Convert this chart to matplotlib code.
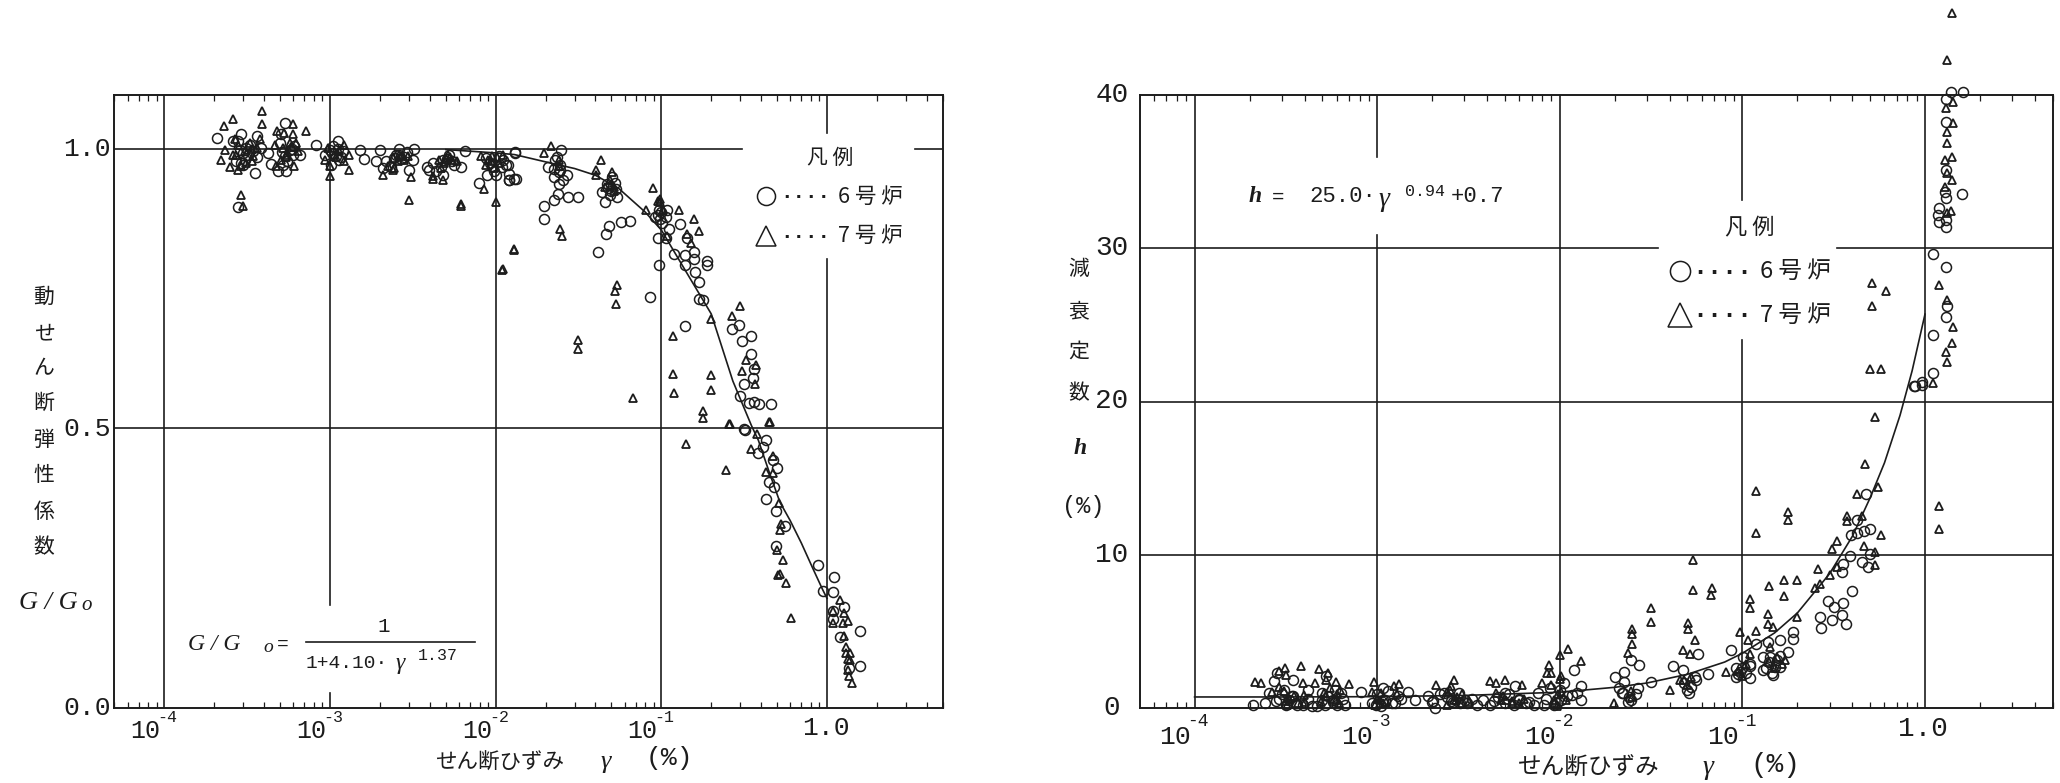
import matplotlib
matplotlib.use("Agg")
import matplotlib.pyplot as plt
from matplotlib.lines import Line2D
from matplotlib.ticker import LogLocator, NullFormatter

# ====== left panel data (G/Go) ======
g6_x = [2.08e-4, 2.60e-4, 2.92e-4, 3.63e-4, 2.79e-4, 3.13e-4, 3.43e-4, 2.85e-4, 3.06e-4, 2.72e-4, 3.20e-4, 3.85e-4, 4.23e-4, 3.52e-4, 2.99e-4, 2.79e-4,
        5.32e-4, 4.43e-4, 4.85e-4, 5.45e-4, 5.20e-4, 6.55e-4, 4.97e-4, 5.70e-4, 5.32e-4, 6.10e-4, 5.08e-4, 5.97e-4,
        8.18e-4, 1.11e-3, 9.93e-4, 1.09e-3, 9.27e-4, 1.02e-3, 1.19e-3, 1.04e-3, 1.14e-3, 1.51e-3, 1.61e-3,
        2.00e-3, 1.90e-3, 2.62e-3, 3.22e-3, 3.15e-3, 2.18e-3, 2.44e-3, 2.81e-3, 3.00e-3, 2.33e-3, 2.08e-3, 2.62e-3,
        6.53e-3, 3.83e-3, 6.15e-3, 4.16e-3, 4.78e-3, 5.48e-3, 4.36e-3, 4.78e-3, 5.24e-3, 3.97e-3,
        1.31e-2, 7.94e-3, 8.91e-3, 1.20e-2, 1.32e-2, 9.55e-3, 1.15e-2, 8.71e-3, 1.10e-2, 1.00e-2,
        .0130, .0119, .0109, .0120, .0129, .0120, .0206, .0249, .0229, .0245, .0270, .0224, .0240, .0238, .0224, .0273, .0314, .0197, .0197,
        .0481, .0463, .0574, .0650, .0413, .0439, .0459, .0504, .0540, .0492, .0859, .0964, .092, .108, .0986, .111, .0955, .129, .119, .138,
        .157, .138, .189, .189, .159, .168, .168, .178, .138, .267, .296, .348, .305, .348, .364, .356, .317, .297, .336, .36, .391, .459, .317,
        .143, .157, .106, .024, .0224, .047, .053, .099, .0964,
        .318, .431, .409, .385, .470, .500, .447, .479, .431, .491, .560, .491, .879, 1.10, .94, 1.09, 1.09, 1.27, 1.09, 1.19, 1.58, 1.58, 1.35]
g6_y = [1.020, 1.014, 1.026, 1.023, 1.014, 1.002, .996, .999, .981, .978, .990, 1.002, .993, .957, .972, .897,
        1.047, .973, .960, .960, .972, .990, 1.011, .999, .987, 1.005, 1.026, .990,
        1.007, 1.014, .999, .987, .990, .972, .996, 1.005, .981, .999, .983,
        .999, .978, 1.000, 1.000, .981, .978, .984, .986, .962, .968, .966, .990,
        .996, .968, .968, .975, .981, .978, .960, .954, .990, .963,
        .994, .939, .954, .945, .946, .969, .972, .984, .981, .954,
        .992, .971, .967, .956, .946, .944, .968, .999, .980, .971, .953, .950, .938, .920, .909, .915, .914, .898, .875,
        .862, .848, .869, .871, .816, .923, .905, .950, .914, .917, .735, .792, .878, .890, .875, .856, .840, .866, .813, .810,
        .816, .792, .800, .792, .780, .762, .732, .729, .683, .678, .686, .665, .656, .634, .607, .591, .580, .558, .545, .547, .543, .543, .499,
        .840, .804, .840, .959, .965, .938, .929, .887, .890,
        .497, .479, .467, .457, .443, .430, .405, .396, .374, .353, .326, .290, .255, .234, .210, .207, .174, .180, .160, .127, .138, .076, .071]
# the thick parts of the clusters
g6_dense_x = [3.0e-4, 3.3e-4, 3.6e-4, 2.9e-4, 5.5e-4, 5.9e-4, 5.1e-4, 1.03e-3, 1.12e-3, 1.17e-3, 2.5e-3, 2.7e-3, 2.9e-3, 4.7e-3,
              5.1e-3, 5.6e-3, 9.2e-3, 9.8e-3, 1.05e-2, .0235, .0245, .0255, .0475, .05, .0525, .096, .101, .106]
g6_dense_y = [.992, 1.008, .985, .975, .978, 1.0, .994, .993, 1.0, .985, .990, .982, .994, .968,
              .982, .972, .975, .96, .988, .985, .962, .945, .93, .925, .94, .882, .868, .878]

g7_x = [2.6e-4, 2.3e-4, 3.9e-4, 3.9e-4, 6.0e-4, 7.2e-4, 4.8e-4, 5.3e-4, 6.0e-4, 3.8e-4, 2.2e-4, 2.9e-4, 3.0e-4, 1.0e-3, 1.3e-3, 2.1e-3, 3.1e-3, 3.0e-3,
        6.2e-3, 6.2e-3, 1.0e-2, 8.5e-3, 8.1e-3, 1.29e-2, 1.1e-2, 4.2e-3, 4.8e-3, 2.4e-3,
        2.32e-4, 2.6e-4, 2.92e-4, 2.48e-4, 2.79e-4, 3.28e-4, 3.06e-4, 3.43e-4, 3.36e-4, 2.66e-4, 2.79e-4, 3.6e-4,
        4.63e-4, 6.25e-4, 5.2e-4, 5.7e-4, 6.1e-4, 4.74e-4, 5.08e-4, 5.45e-4, 6.4e-4,
        9.7e-4, 1.22e-3, 1.31e-3, 1.22e-3, 9.27e-4, 1.06e-3, 1.14e-3,
        2.39e-3, 2.68e-3, 2.56e-3, 2.23e-3, 2.94e-3, 2.44e-3,
        5.12e-3, 4.56e-3, 5.48e-3, 5.87e-3, 4.16e-3, 4.67e-3, 5.0e-3,
        8.71e-3, 9.55e-3, 1.1e-2, 9.77e-3, 9.33e-3, 1.05e-2,
        .0217, .0197, .0435, .0404, .0404, .0504, .0240, .0245, .0251, .0129, .0109, .0540, .0527, .0531, .0313, .0313, .0675,
        .0887, .0977, .0955, .0809, .127, .157, .168, .143, .150, .108, .297, .267, .198, .117, .117, .198, .198, .119, .178, .178, .257, .449,
        .324, .372, .307, .366, .0459, .0492, .0515,
        .261, .451, .376, .140, .350, .470, .431, .470, .513, .531, .522, .245, .500, .545, .508, .522, .569, .610,
        1.19, 1.26, 1.09, 1.24, 1.33, 1.26, 1.30, 1.30, 1.38, 1.33, 1.38, 1.33, 1.35, 1.41, 1.09]
g7_y = [1.054, 1.042, 1.068, 1.045, 1.044, 1.033, 1.032, 1.029, 1.026, 1.017, .981, .918, .898, .952, .963, .954, .950, .908,
        .902, .898, .905, .928, .988, .821, .785, .946, .945, .962,
        .999, .990, .969, .968, .962, 1.011, .996, .987, .978, 1.017, 1.008, 1.002,
        1.008, 1.011, 1.002, 1.011, .969, .969, .981, .990, .996,
        1.002, 1.008, .990, .978, .981, .990, .996,
        .984, .987, .978, .969, .987, .966,
        .990, .981, .981, .978, .951, .966, .984,
        .972, .987, .990, .966, .978, .975,
        1.005, .993, .980, .962, .953, .959, .980, .857, .844, .820, .784, .756, .746, .723, .659, .643, .555,
        .930, .911, .907, .890, .890, .875, .854, .848, .831, .845, .720, .701, .695, .666, .598, .595, .569, .563, .532, .519, .508, .511,
        .622, .613, .602, .580, .932, .944, .932,
        .508, .512, .490, .473, .463, .451, .423, .420, .366, .330, .318, .426, .283, .265, .238, .240, .223, .161,
        .193, .170, .152, .152, .155, .128, .110, .098, .098, .0875, .086, .068, .057, .045, .174]
g7_dense_x = [3.1e-4, 3.4e-4, 2.7e-4, 5.4e-4, 5.9e-4, 1.08e-3, 1.0e-3, 2.6e-3, 2.8e-3, 4.9e-3, 5.3e-3, 9.0e-3, 1.02e-2, .024, .0495, .052, .098, .102]
g7_dense_y = [.975, 1.0, .99, .985, 1.003, .985, .97, .99, .98, .975, .985, .98, .985, .97, .935, .925, .905, .89]

g_curve_x = [5e-3, 1e-2, 1.3e-2, .02, .03, .04, .055, .08, .10, .14, .20, .27, .35, .385, .45, .52, .60, .70, .82, .94, 1.0]
g_curve_y = [.999, .993, .990, .977, .965, .953, .930, .887, .855, .782, .705, .585, .505, .479, .420, .368, .335, .295, .250, .212, .196]

# ====== right panel data (h) ======
h6_x = [2.09e-4, 2.84e-4, 3.48e-4, 2.72e-4, 2.43e-4, 2.78e-4, 3.48e-4, 4.17e-4, 5.0e-4, 5.71e-4, 6.7e-4, 4.37e-4, 3.18e-4,
        8.2e-4, 1.07e-3, 1.2e-3, 9.4e-4, 1.47e-3, 1.61e-3, 1.89e-3, 2.07e-3, 2.31e-3, 2.83e-3, 3.03e-3, 3.79e-3, 4.15e-3, 4.98e-3, 5.69e-3, 6.52e-3,
        7.64e-3, 8.17e-3, 1.2e-2, 1.31e-2, 1.31e-2, 1.17e-2, 1.02e-2, 9.35e-3, 5.22e-4, 1.07e-3, 2.02e-3, 2.53e-3, 4.35e-3, 5.96e-3, 2.54e-4, 3.65e-4,
        .0200, .0226, .0273, .0246, .0226, .0268, .0222, .0246, .0317, .0417, .0571, .0548, .0510, .0648, .0871, .101, .110, .110, .0927,
        .119, .138, .160, .190, .190, .130, .130, .147, .178, .160, .141,
        .265, .268, .308, .349, .369, .295, .318, .356, .399, .349, .356, .388, .450, .489, .499, .391, .422, .463, .499, .422, .473,
        .881, .959, .0967, .0473, .0212,
        1.38, 1.61, 1.30, 1.30, 1.30, 1.29, 1.30, 1.60, 1.20, 1.18, 1.20, 1.30, 1.30, 1.10, 1.30, 1.32, 1.30, 1.10, 1.10, .96, .873]
h6_y = [.17, 2.28, 1.85, 1.74, .33, .43, .76, 1.20, .98, .54, .22, .11, .22,
        1.02, 1.30, .33, .33, 1.02, .50, .76, 0.0, .98, .33, .54, .54, .22, .98, 1.41, .33,
        .98, .22, 2.46, 1.46, .54, .87, .54, .22, 2.07, .54, .43, .43, .43, .54, .98, .22,
        2.03, 2.36, 2.79, 3.12, 1.71, 1.28, .95, .52, 1.71, 2.73, 3.51, 2.03, .95, 2.21, 3.77, 3.33, 2.73, 1.97, 2.03,
        4.20, 4.31, 4.42, 4.96, 4.52, 3.33, 2.47, 2.14, 3.66, 2.68, 3.33,
        5.93, 5.24, 5.76, 6.04, 5.50, 6.95, 6.62, 6.84, 7.66, 8.85, 9.39, 9.89, 9.50, 9.18, 10.04, 11.30, 11.45, 11.52, 11.67, 12.25, 13.94,
        21.0, 21.1, 2.36, 2.47, 1.28,
        40.22, 40.17, 39.74, 38.26, 35.11, 33.70, 33.26, 33.54, 32.61, 32.17, 31.74, 31.41, 31.85, 29.63, 28.80, 26.24, 25.5, 24.35, 21.89, 21.3, 21.04]
h6_dense_x = [3.0e-4, 3.3e-4, 3.6e-4, 3.9e-4, 4.2e-4, 3.1e-4, 3.4e-4, 2.9e-4, 5.4e-4, 5.7e-4, 6.0e-4, 6.3e-4, 5.0e-4, 5.2e-4, 5.9e-4, 6.5e-4, 4.7e-4,
              1.0e-3, 1.1e-3, 1.15e-3, 1.25e-3, 1.3e-3, 9.8e-4, 1.05e-3, 1.35e-3,
              2.4e-3, 2.6e-3, 2.8e-3, 3.1e-3, 3.3e-3, 3.5e-3, 2.2e-3, 2.0e-3,
              4.6e-3, 5.0e-3, 5.3e-3, 5.6e-3, 6.0e-3, 6.8e-3, 7.2e-3,
              8.8e-3, 9.6e-3, 1.05e-2, 1.1e-2, 1.25e-2, 8.4e-3, 1.0e-2,
              .022, .024, .026, .0235, .052, .056, .048, .05, .095, .1, .105, .11, .092, .135, .14, .145, .15, .155, .16]
h6_dense_y = [.9, .5, .3, .2, .6, 1.2, .8, .6, .8, .4, .2, 1.0, .5, .2, 1.2, .6, .1,
              .9, .5, 1.1, .3, .8, .2, .1, .6,
              .7, .4, 1.0, .3, .6, .2, .9, .4,
              .7, .3, .9, .2, .6, .4, .2,
              1.3, .3, 1.6, .8, 1.0, .6, 1.2,
              1.0, .7, .9, .4, 1.4, 1.8, 1.6, 1.2, 2.2, 2.6, 2.3, 2.9, 2.6, 2.6, 3.0, 2.3, 2.7, 3.1, 3.4]

h7_x = [2.15e-4, 2.30e-4, 3.11e-4, 3.81e-4, 4.78e-4, 5.35e-4, 3.90e-4, 4.56e-4, 5.98e-4, 7.0e-4, 6.25e-4, 9.6e-4, 1.32e-3, 1.23e-3, 2.11e-3, 2.62e-3, 2.53e-3,
        4.15e-3, 4.45e-3, 4.98e-3, 6.24e-3, 8.73e-3, 8.93e-3, 8.55e-3, 1.0e-2, 1.11e-2, 1.31e-2, 7.98e-3, 1.02e-2,
        3.99e-4, 2.91e-4, 3.18e-4, 5.22e-4, 9.4e-4, 1.03e-3, 2.42e-3, 2.65e-3, 4.75e-3, 5.45e-3, 1.02e-2, 9.35e-3, 2.66e-4, 3.18e-4, 5.22e-4, 5.98e-4, 1.07e-3, 2.90e-3, 5.96e-3,
        .0197, .0248, .0248, .0248, .0317, .0317, .0536, .0536, .0684, .0676, .0504, .0504, .0548, .0473, .0519, .0399, .0453, .0817,
        .110, .110, .119, .119, .0975, .119, .107, .110, .178, .178, .169, .198, .140, .169, .138, .138, .147, .198,
        .260, .301, .249, .265, .328, .308, .328, .375, .375, .450, .425, .469, .532, .555, .574, .465, .532, .532, 1.20, 1.20, .171, .141,
        1.41, 1.32, 1.43, 1.30, 1.42, 1.32, 1.32, 1.40, 1.29, 1.32, 1.40, 1.29, 1.38, 1.32,
        1.20, 1.32, 1.42, 1.40, 1.30, 1.32, .510, .611, .510, .499, .574, 1.10]
h7_y = [1.70, 1.63, 2.61, 2.76, 2.54, 2.28, 1.63, 1.63, 1.67, 1.59, 1.20, 1.67, 1.59, 1.41, 1.52, 1.85, 1.41,
        1.74, 1.63, 1.80, 1.52, 2.83, 2.28, 2.28, 3.48, 3.87, 3.04, 1.63, 2.07,
        .87, 2.39, 2.17, 1.85, 1.02, .54, 1.02, .54, .54, .43, 1.02, .54, 1.02, .43, .76, .54, .33, .33, .33,
        .35, 5.17, 4.20, 4.85, 6.52, 5.61, 9.68, 7.71, 7.84, 7.38, 5.56, 5.17, 4.46, 3.77, 3.55, 1.17, 1.82, 2.36,
        7.12, 6.52, 14.16, 11.45, 4.96, 5.02, 4.42, 3.55, 12.81, 12.25, 8.38, 8.38, 7.99, 7.29, 6.15, 5.50, 5.28, 5.93,
        9.07, 8.68, 7.84, 8.10, 10.91, 10.37, 9.18, 12.53, 12.21, 12.53, 13.98, 15.89, 18.96, 14.42, 11.30, 10.58, 10.15, 9.35, 13.18, 11.67, 3.12, 3.98,
        45.37, 42.28, 39.57, 39.13, 38.15, 37.61, 36.89, 35.98, 35.76, 34.89, 34.46, 34.02, 32.46, 32.28,
        27.61, 26.63, 24.85, 23.8, 23.26, 22.6, 27.72, 27.24, 26.2, 22.1, 22.1, 21.2]
h7_dense_x = [3.1e-4, 3.3e-4, 3.5e-4, 3.7e-4, 4.0e-4, 2.9e-4, 3.2e-4, 5.5e-4, 5.8e-4, 6.2e-4, 5.1e-4, 4.9e-4, 6.0e-4,
              1.05e-3, 1.12e-3, 1.0e-3, 1.28e-3, 9.7e-4, 2.5e-3, 2.7e-3, 2.9e-3, 3.2e-3, 2.4e-3, 2.75e-3,
              4.5e-3, 5.1e-3, 5.5e-3, 4.9e-3, 6.4e-3, 9.0e-3, 9.8e-3, 1.08e-2, 9.3e-3, 1.0e-2, 9.6e-3,
              .0245, .0235, .025, .048, .05, .052, .095, .105, .1, .14, .15, .155, .165]
h7_dense_y = [1.1, .6, .8, .3, .4, 1.4, .2, 1.3, .6, .3, 1.0, .4, .9,
              1.0, .4, .6, .9, .2, 1.2, .5, .9, .4, .2, .7,
              1.0, .5, .3, .8, .6, 1.5, .9, .5, .3, 1.9, .1,
              1.1, 3.6, .7, 1.8, 1.5, 2.0, 2.4, 2.9, 2.1, 3.0, 2.6, 3.3, 2.9]

h_curve_x = [1e-4, 3e-4, 1e-3, 3e-3, 1e-2, .02, .03, .05, .08, .1, .15, .2, .3, .4, .5, .6, .73, .85, 1.0]
h_curve_y = [.72, .72, .74, .82, 1.03, 1.35, 1.63, 2.2, 3.0, 3.57, 4.9, 6.2, 8.76, 11.2, 13.7, 16.0, 19.1, 22.0, 25.7]

tick_exp = ["-4", "-3", "-2", "-1"]
g_yticks = [1.0, 0.5, 0.0]
g_ylabels = ["1.0", "0.5", "0.0"]
h_yticks = [40, 30, 20, 10, 0]
g_kanji = ["動", "せ", "ん", "断", "弾", "性", "係", "数"]
h_kanji = ["減", "衰", "定", "数"]

W, H = 2060, 783
INK = "#1c1c1c"
JP = ["Noto Sans CJK JP", "DejaVu Sans"]
MONO = "Liberation Mono"
SERIF = "Liberation Serif"


def fx(x):
    return x / W


def fy(y):
    return 1 - y / H


def put(x, y, s, size=14, family=MONO, ha="center", **kw):
    # text placed by pixel position on the page
    fig.text(fx(x), fy(y), s, fontsize=size, family=family, ha=ha, va="center", color=INK, **kw)


def mark(x, y, marker, size):
    fig.add_artist(Line2D([fx(x)], [fy(y)], marker=marker, ms=size, mfc="none", mec=INK, mew=1.1, ls="none"))


def setup_axes(box, xlim, ylim, hsegs, vsegs):
    l, t, r, b = box
    ax = fig.add_axes([fx(l), fy(b), (r - l) / W, (b - t) / H])
    ax.set_xscale("log")
    ax.set_xlim(*xlim)
    ax.set_ylim(*ylim)
    ax.xaxis.set_major_locator(LogLocator(base=10, numticks=12))
    ax.xaxis.set_minor_locator(LogLocator(base=10, subs=range(2, 10), numticks=12))
    ax.xaxis.set_major_formatter(NullFormatter())
    ax.xaxis.set_minor_formatter(NullFormatter())
    ax.set_yticks([])
    ax.tick_params(axis="x", which="major", length=0)
    ax.tick_params(axis="x", which="minor", direction="in", top=True, bottom=True, length=4.5, width=0.9, color=INK)
    for s in ax.spines.values():
        s.set_linewidth(1.4)
        s.set_color(INK)
    for y, x0, x1 in hsegs:
        ax.plot([x0, x1], [y, y], color=INK, lw=1.2, zorder=1)
    for x, y0, y1 in vsegs:
        ax.plot([x, x], [y0, y1], color=INK, lw=1.2, zorder=1)
    return ax


def draw_points(ax, cx, cy, tx, ty, lx, ly):
    ax.plot(lx, ly, color=INK, lw=1.2, zorder=2)
    ax.plot(cx, cy, "o", ms=7.2, mfc="none", mec=INK, mew=1.1, clip_on=False, zorder=3)
    ax.plot(tx, ty, "^", ms=6.2, mfc="none", mec=INK, mew=1.3, clip_on=False, zorder=3)


fig = plt.figure(figsize=(W / 100, H / 100), dpi=100, facecolor="white")

# ====== 1. LEFT PANEL ======
gx0, gx1 = 10 ** -4.304, 10 ** 0.70
gtop = 1.0966
g_h = [(1.0, gx0, .305), (1.0, 3.39, gx1), (0.5, gx0, gx1)]
g_v = [(1e-4, 0, gtop), (1e-3, 0, .027), (1e-3, .184, gtop), (1e-2, 0, gtop), (1e-1, 0, gtop), (1.0, 0, .803), (1.0, 1.029, gtop)]
ax1 = setup_axes((114, 95, 943, 708), (gx0, gx1), (0, gtop), g_h, g_v)
draw_points(ax1, g6_x + g6_dense_x, g6_y + g6_dense_y, g7_x + g7_dense_x, g7_y + g7_dense_y, g_curve_x, g_curve_y)

for v, lab in zip(g_yticks, g_ylabels):
    put(87, 708 - v * 559, lab, size=19)
for e, cx in zip(tick_exp, [145, 311, 477, 642]):
    put(cx, 731, "10", size=18)
    put(cx + 22, 717, e, size=12)
put(826, 728, "1.0", size=19)

put(500, 763, "せん断ひずみ", size=15.5, family=JP)
put(606, 762, "γ", size=19, family=SERIF, style="italic")
put(669, 758, "(%)", size=19)

for s, y in zip(g_kanji, [297, 333, 368, 403, 440, 475, 512, 547]):
    put(44, y, s, size=15, family=JP)
put(48, 603, "G / G", size=19, family=SERIF, style="italic")
put(87, 606, "o", size=15, family=SERIF, style="italic")

# formula
put(188, 644, "G / G", size=17, family=SERIF, style="italic", ha="left")
put(268, 647, "o", size=14, family=SERIF, style="italic")
put(283, 644, "=", size=14)
put(384, 627, "1", size=15)
fig.add_artist(Line2D([fx(306), fx(475)], [fy(642), fy(642)], color=INK, lw=1.2))
put(306, 663, "1+4.10·", size=14, ha="left")
put(400, 664, "γ", size=17, family=SERIF, style="italic")
put(438, 656, "1.37", size=12)

# legend
put(830, 158, "凡 例", size=15, family=JP)
mark(766, 196, "o", 13)
mark(766, 236, "^", 15)
for y in (197, 236):
    put(805, y, "····", size=15, weight="bold")
put(870, 197, "6 号 炉", size=15.5, family=JP)
put(870, 236, "7 号 炉", size=15.5, family=JP)

# ====== 2. RIGHT PANEL ======
hx0, hx1 = 10 ** -4.299, 10 ** 0.701
h_h = [(30, hx0, .0344), (30, .33, hx1), (20, hx0, hx1), (10, hx0, hx1)]
h_v = [(1e-4, 0, 40), (1e-3, 0, 30.86), (1e-3, 35.95, 40), (1e-2, 0, 40), (1e-1, 0, 24.0), (1e-1, 33.15, 40), (1.0, 0, 40)]
ax2 = setup_axes((1140, 95, 2053, 708), (hx0, hx1), (0, 40), h_h, h_v)
draw_points(ax2, h6_x + h6_dense_x, h6_y + h6_dense_y, h7_x + h7_dense_x, h7_y + h7_dense_y, h_curve_x, h_curve_y)

for v in h_yticks:
    put(1112, 708 - v * 15.325, str(v), size=20)
for e, cx in zip(tick_exp, [1175, 1357, 1540, 1723]):
    put(cx, 737, "10", size=19)
    put(cx + 23, 722, e, size=13)
put(1923, 729, "1.0", size=20)

put(1589, 768, "せん断ひずみ", size=17, family=JP)
put(1708, 767, "γ", size=20, family=SERIF, style="italic")
put(1775, 765, "(%)", size=20)

for s, y in zip(h_kanji, [269, 311, 352, 393]):
    put(1079, y, s, size=15, family=JP)
put(1080, 449, "h", size=17, family=SERIF, style="italic", weight="bold")
put(1083, 506, "(%)", size=17)

# formula
put(1255, 197, "h", size=17, family=SERIF, style="italic", weight="bold")
put(1278, 197, "=", size=15)
put(1309, 197, "25.0·", size=16, ha="left")
put(1384, 199, "γ", size=20, family=SERIF, style="italic")
put(1425, 191, "0.94", size=12)
put(1477, 197, "+0.7", size=16)

# legend
put(1750, 228, "凡 例", size=16, family=JP)
mark(1680, 271, "o", 14.5)
mark(1680, 315, "^", 17)
for y in (272, 315):
    put(1722, y, "····", size=18, weight="bold")
put(1795, 271, "6 号 炉", size=17, family=JP)
put(1795, 315, "7 号 炉", size=17, family=JP)

fig.savefig("out.png", dpi=100, facecolor="white")
